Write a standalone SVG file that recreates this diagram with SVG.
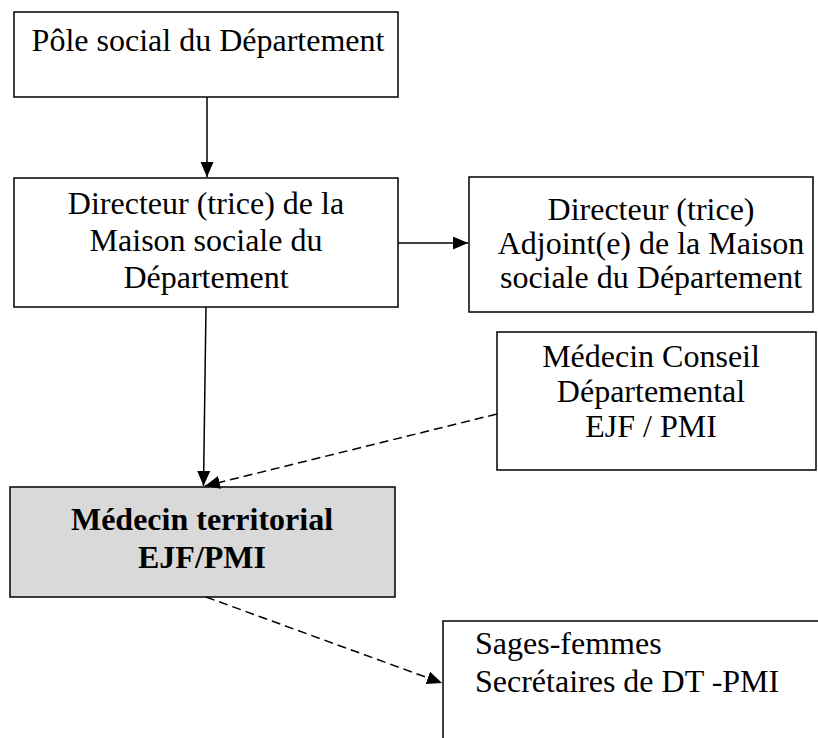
<svg xmlns="http://www.w3.org/2000/svg" width="818" height="738" viewBox="0 0 818 738">
<style>
.box{fill:#fff;stroke:#000;stroke-width:1.5}
.gray{fill:#d9d9d9;stroke:#000;stroke-width:1.5}
.t{font-family:"Liberation Serif","Times New Roman",serif;font-size:32px;fill:#000}
.c{text-anchor:middle}
.b{font-weight:bold}
.ln{stroke:#000;stroke-width:1.5;fill:none}
.dash{stroke-dasharray:9 5}
</style>
<defs>
<marker id="ah" markerUnits="userSpaceOnUse" markerWidth="16" markerHeight="14" refX="15" refY="6.5" orient="auto">
<path d="M0,0 L15,6.5 L0,13 z" fill="#000"/>
</marker>
</defs>
<g id="pole">
<rect class="box" x="14" y="12" width="384" height="85"/>
<text class="t c" x="208" y="51">Pôle social du Département</text>
</g>
<g id="directeur">
<rect class="box" x="14" y="178" width="384" height="129"/>
<text class="t c" x="206" y="214">Directeur (trice) de la</text>
<text class="t c" x="206" y="251">Maison sociale du</text>
<text class="t c" x="206" y="288">Département</text>
</g>
<g id="adjoint">
<rect class="box" x="469" y="177" width="344" height="135"/>
<text class="t c" x="651" y="220">Directeur (trice)</text>
<text class="t c" x="651" y="254">Adjoint(e) de la Maison</text>
<text class="t c" x="651" y="288">sociale du Département</text>
</g>
<g id="conseil">
<rect class="box" x="497" y="332" width="319" height="138"/>
<text class="t c" x="651" y="367">Médecin Conseil</text>
<text class="t c" x="651" y="402">Départemental</text>
<text class="t c" x="651" y="437">EJF / PMI</text>
</g>
<g id="territorial">
<rect class="gray" x="10" y="487" width="385" height="110"/>
<text class="t c b" x="202" y="530">Médecin territorial</text>
<text class="t c b" x="202" y="568">EJF/PMI</text>
</g>
<g id="sages">
<rect class="box" x="443" y="621" width="380" height="125"/>
<text class="t" x="475" y="654">Sages-femmes</text>
<text class="t" x="475" y="692">Secrétaires de DT -PMI</text>
</g>
<g id="connectors">
<line class="ln" x1="207" y1="97" x2="207" y2="177" marker-end="url(#ah)"/>
<line class="ln" x1="398" y1="243" x2="468" y2="243" marker-end="url(#ah)"/>
<line class="ln" x1="206" y1="307" x2="203.5" y2="486" marker-end="url(#ah)"/>
<line class="ln dash" x1="497" y1="414" x2="205" y2="486" marker-end="url(#ah)"/>
<line class="ln dash" x1="206" y1="597" x2="442" y2="683" marker-end="url(#ah)"/>
</g>
</svg>
